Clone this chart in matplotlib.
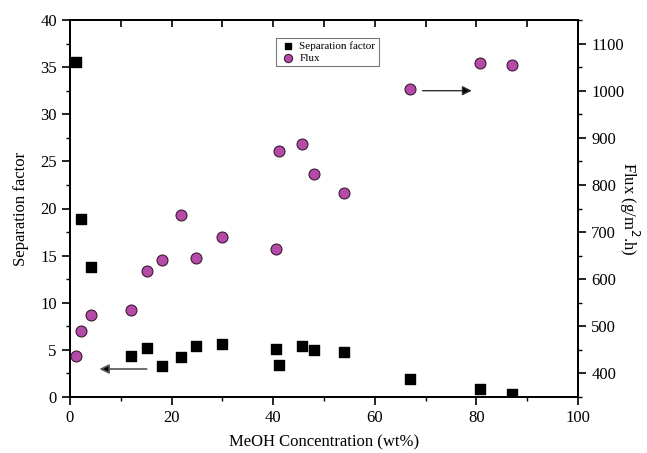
import matplotlib
matplotlib.use("Agg")
import matplotlib.pyplot as plt
from matplotlib.ticker import MultipleLocator

plt.rcParams['font.family'] = ['Liberation Serif', 'DejaVu Serif']

# MeOH concentration in feed (wt%)
meoh_conc = [1.2, 2.1, 4.1, 12.1, 15.1, 18.1, 21.9, 24.9, 29.9, 40.6, 41.2,
             45.7, 48.0, 54.0, 66.9, 80.8, 87.1]
separation_factor = [35.5, 18.85, 13.8, 4.35, 5.2, 3.3, 4.25, 5.45, 5.6, 5.13,
                     3.4, 5.4, 5.0, 4.74, 1.95, 0.82, 0.32]
flux = [436, 489, 523, 534, 617, 641, 737, 646, 689, 663, 873,
        887, 824, 782, 1003, 1058, 1055]

fig = plt.figure(figsize=(6.47, 4.53), dpi=100)
ax = fig.add_axes([70 / 647, 1 - 397 / 453, 508 / 647, 377 / 453])
ax2 = ax.twinx()

sq = ax.scatter(meoh_conc, separation_factor, marker='s', s=42, color='black',
                zorder=3, label='Separation factor')
ci = ax2.scatter(meoh_conc, flux, marker='o', s=62, facecolor='#b54ba6',
                 edgecolor='#3a1a35', linewidth=0.8, zorder=3, label='Flux')

ax.set_xlim(0, 100)
ax.set_ylim(0, 40)
ax2.set_ylim(350, 1150)

ax.xaxis.set_major_locator(MultipleLocator(20))
ax.xaxis.set_minor_locator(MultipleLocator(10))
ax.yaxis.set_major_locator(MultipleLocator(5))
ax.yaxis.set_minor_locator(MultipleLocator(2.5))
ax2.yaxis.set_major_locator(MultipleLocator(100))
ax2.yaxis.set_minor_locator(MultipleLocator(50))

for a in (ax, ax2):
    for s in a.spines.values():
        s.set_linewidth(1.3)
ax.tick_params(axis='both', which='major', direction='out', length=6, width=1.2,
               labelsize=12, top=False)
ax.tick_params(axis='both', which='minor', direction='out', length=3, width=1.0,
               top=False)
ax2.tick_params(axis='y', which='major', direction='out', length=6, width=1.2,
                labelsize=12)
ax2.tick_params(axis='y', which='minor', direction='out', length=3, width=1.0)

# inward ticks along the top edge
top = ax.secondary_xaxis('top')
top.xaxis.set_major_locator(MultipleLocator(10))
top.tick_params(direction='in', length=5, width=1.2, labeltop=False)
top.spines['top'].set_linewidth(1.3)

ax.set_xlabel('MeOH Concentration (wt%)', fontsize=12, labelpad=6)
ax.set_ylabel('Separation factor', fontsize=12, labelpad=8)
ax2.set_ylabel('Flux (g/m$^2$.h)', fontsize=12, rotation=270, labelpad=12)

leg = ax.legend(handles=[sq, ci], loc='upper left',
                bbox_to_anchor=((276 - 70) / 508, (397 - 38) / 377),
                fontsize=8, frameon=True, fancybox=False, edgecolor='#555555',
                borderpad=0.3, handletextpad=0.3, labelspacing=0.2,
                markerscale=0.75, handlelength=1.5, borderaxespad=0)
leg.get_frame().set_linewidth(0.8)

# arrows pointing to the axis each series belongs to
ax.annotate('', xy=(5.8, 2.97), xytext=(15.1, 2.97),
            arrowprops=dict(arrowstyle='-|>', color='#555555', lw=1.2,
                            mutation_scale=14, shrinkA=0, shrinkB=0,
                            fc='black', ec='#555555'))
ax.annotate('', xy=(79.1, 32.5), xytext=(69.4, 32.5),
            arrowprops=dict(arrowstyle='-|>', color='#333333', lw=1.0,
                            mutation_scale=14, shrinkA=0, shrinkB=0,
                            fc='black', ec='#333333'))

fig.savefig('out.png', dpi=100)
